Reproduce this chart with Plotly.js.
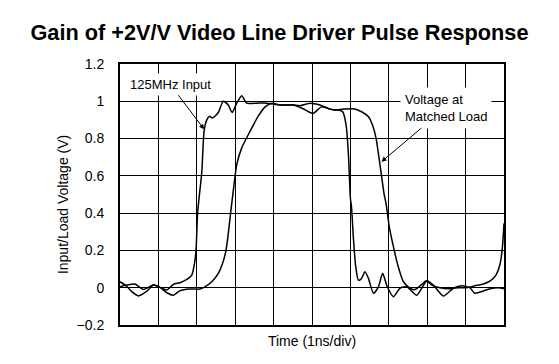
<!DOCTYPE html>
<html>
<head>
<meta charset="utf-8">
<script src="https://cdn.plot.ly/plotly-3.0.1.min.js"></script>
<style>html,body{margin:0;padding:0;background:#fff;}#chart{width:559px;height:364px;}</style>
</head>
<body>
<div id="chart"></div>
<script>
// Time in ns (1 ns per division), voltage in V
const inputTime = [0, 0.17, 0.39, 0.61, 0.87, 1.04, 1.22, 1.39, 1.56, 1.74, 1.87, 1.94, 1.98, 2.02, 2.08, 2.13, 2.19, 2.26, 2.33, 2.41, 2.56, 2.69, 2.82, 2.92, 3.04, 3.17, 3.30, 3.56, 3.82, 4.17, 4.51, 4.69, 4.95, 5.21, 5.47, 5.69, 5.80, 5.89, 5.95, 6.00, 6.03, 6.08, 6.14, 6.21, 6.29, 6.38, 6.47, 6.60, 6.73, 6.84, 6.96, 7.12, 7.29, 7.47, 7.73, 7.99, 8.16, 8.42, 8.68, 8.90, 9.11, 9.24, 9.42, 9.64, 9.85, 10];
const inputVolt = [0.005, 0.014, 0.02, -0.009, 0.014, 0.002, -0.012, 0.018, 0.027, 0.045, 0.068, 0.13, 0.20, 0.40, 0.52, 0.62, 0.84, 0.90, 0.92, 0.91, 0.94, 1.0, 0.98, 0.94, 0.99, 1.03, 0.99, 0.99, 0.99, 0.98, 0.98, 0.976, 0.99, 0.98, 0.958, 0.953, 0.944, 0.87, 0.71, 0.48, 0.43, 0.26, 0.11, 0.04, 0.05, 0.086, 0.05, -0.03, 0.005, 0.077, 0.005, -0.048, -0.003, 0.005, -0.04, 0.037, 0.014, -0.045, -0.003, 0.01, 0.0, -0.03, -0.02, -0.005, 0.0, -0.005];

const loadTime = [0, 0.17, 0.30, 0.48, 0.69, 0.87, 1.04, 1.22, 1.39, 1.56, 1.82, 2.08, 2.21, 2.39, 2.56, 2.67, 2.76, 2.82, 2.88, 2.95, 3.04, 3.17, 3.39, 3.60, 3.78, 3.95, 4.17, 4.51, 4.77, 5.03, 5.25, 5.56, 5.82, 6.08, 6.29, 6.47, 6.58, 6.67, 6.77, 6.88, 6.93, 7.01, 7.12, 7.25, 7.38, 7.55, 7.68, 7.86, 7.97, 8.12, 8.33, 8.59, 8.81, 9.03, 9.24, 9.46, 9.64, 9.79, 9.90, 9.96, 10];
const loadVolt = [0.032, 0.009, -0.02, -0.044, -0.02, 0.014, 0.002, -0.027, -0.04, -0.016, -0.007, -0.007, 0.005, 0.032, 0.077, 0.13, 0.20, 0.29, 0.40, 0.52, 0.66, 0.75, 0.84, 0.92, 0.97, 0.99, 0.98, 0.98, 0.96, 0.935, 0.97, 0.953, 0.958, 0.96, 0.944, 0.917, 0.87, 0.80, 0.66, 0.50, 0.45, 0.33, 0.22, 0.11, 0.032, -0.003, -0.01, 0.018, 0.037, 0.014, 0.0, -0.005, 0.0, 0.0, 0.01, 0.02, 0.037, 0.068, 0.13, 0.22, 0.345];

const yTickVals = [-0.2, 0, 0.2, 0.4, 0.6, 0.8, 1.0, 1.2];
const yTickText = ["\u22120.2", "0", "0.2", "0.4", "0.6", "0.8", "1", "1.2"];
const xGridVals = [0, 1, 2, 3, 4, 5, 6, 7, 8, 9, 10];

const font = "Liberation Sans, Arial, sans-serif";

const traces = [
  {x: inputTime, y: inputVolt, mode: "lines", line: {color: "#000", width: 1.5, shape: "spline", smoothing: 0.6}, name: "125MHz Input", hoverinfo: "skip"},
  {x: loadTime, y: loadVolt, mode: "lines", line: {color: "#000", width: 1.5, shape: "spline", smoothing: 0.6}, name: "Voltage at Matched Load", hoverinfo: "skip"}
];

const layout = {
  width: 559, height: 364,
  margin: {l: 120, r: 55, t: 64, b: 39},
  paper_bgcolor: "#fff", plot_bgcolor: "#fff",
  showlegend: false,
  font: {family: font, size: 14, color: "#000"},
  title: {text: "<b>Gain of +2V/V Video Line Driver Pulse Response</b>", font: {family: font, size: 21.7, color: "#000"}, x: 0.5, xanchor: "center", y: 0.91, yanchor: "middle"},
  xaxis: {
    range: [0, 10], tickvals: xGridVals, showticklabels: false, ticks: "",
    showgrid: true, gridcolor: "#000", gridwidth: 1, zeroline: false,
    showline: true, linecolor: "#000", linewidth: 2, mirror: true,
    title: {text: "Time (1ns/div)", font: {family: font, size: 14, color: "#000"}, standoff: 10}
  },
  yaxis: {
    range: [-0.2, 1.2], tickvals: yTickVals, ticktext: yTickText, ticks: "",
    ticklabelstandoff: 11,
    showgrid: true, gridcolor: "#000", gridwidth: 1, zeroline: false,
    showline: true, linecolor: "#000", linewidth: 2, mirror: true,
    tickfont: {family: font, size: 14, color: "#000"}
  },
  annotations: [
    {x: -0.148, y: 0.46, xref: "paper", yref: "paper", text: "Input/Load Voltage (V)", textangle: -90,
     showarrow: false, xanchor: "center", yanchor: "middle", font: {family: font, size: 14, color: "#000"}},
    {x: 2.19, y: 0.85, xref: "x", yref: "y", text: "125MHz Input", showarrow: true,
     arrowhead: 2, arrowsize: 1, arrowwidth: 1, arrowcolor: "#000",
     ax: -34, ay: -45, bgcolor: "#fff", borderpad: 3, font: {family: font, size: 13, color: "#000"}},
    {x: 6.81, y: 0.676, xref: "x", yref: "y", text: "Voltage at<br>Matched Load", align: "left", showarrow: true,
     arrowhead: 2, arrowsize: 1, arrowwidth: 1, arrowcolor: "#000",
     ax: 64, ay: -54, bgcolor: "#fff", borderpad: 4, font: {family: font, size: 13, color: "#000"}}
  ]
};

Plotly.newPlot("chart", traces, layout, {displayModeBar: false, staticPlot: true});
</script>
</body>
</html>
